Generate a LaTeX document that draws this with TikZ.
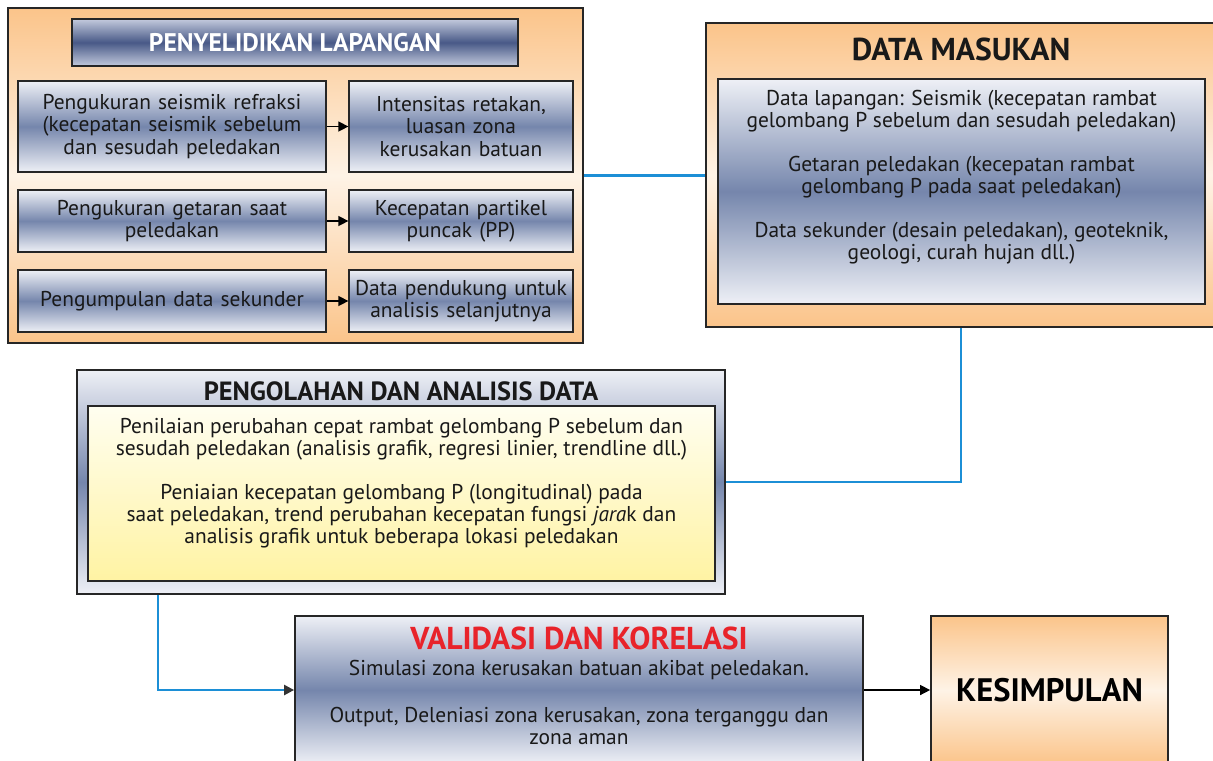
\documentclass[tikz,border=0pt]{standalone}
\usepackage{fontspec}
\setmainfont{PT Sans}
\usetikzlibrary{arrows.meta,positioning}
\definecolor{Peach}{HTML}{FBC48A}
\definecolor{PeachLight}{HTML}{FEF3E6}
\definecolor{Slate}{HTML}{7586AC}
\definecolor{SlateLight}{HTML}{EEF0F6}
\definecolor{Navy}{HTML}{485987}
\definecolor{NavyLight}{HTML}{C3CADD}
\definecolor{LemonTop}{HTML}{FFFEF0}
\definecolor{Lemon}{HTML}{FFF3A3}
\definecolor{LinkBlue}{HTML}{1C8FD6}
\definecolor{TitleRed}{HTML}{E8232A}

\begin{document}
\begin{tikzpicture}[
    frame/.style={draw=black!85,line width=1pt},
    peachbox/.style={frame,top color=Peach,bottom color=Peach,middle color=PeachLight},
    slatebox/.style={frame,top color=SlateLight,bottom color=SlateLight,middle color=Slate},
    titlebox/.style={frame,top color=NavyLight,bottom color=NavyLight,middle color=Navy},
    lemonbox/.style={frame,top color=LemonTop,bottom color=Lemon},
    cell/.style={slatebox,align=center,inner sep=1pt,text=black!90,
                 font=\fontsize{12.2}{12.6}\selectfont},
    body/.style={align=center,text=black!90,font=\fontsize{12.2}{12.6}\selectfont},
    head/.style={font=\bfseries\fontsize{15}{15}\selectfont,text=black!90},
    link/.style={line width=1.3pt,LinkBlue},
    arr/.style={-{Triangle[length=2mm,width=2mm]},thick,black}]
  \useasboundingbox (0,0) rectangle (24.26,-15.2);

  \node[peachbox,minimum width=11.5cm,minimum height=6.7cm] (field) at (5.91,-3.51) {};
  \node[titlebox,minimum width=8.92cm,minimum height=0.94cm,text=white,
        font=\bfseries\fontsize{14.5}{14.5}\selectfont] (fieldtitle) at (5.9,-0.85) {PENYELIDIKAN LAPANGAN};
  \node[cell,minimum width=6.16cm,minimum height=1.82cm,text width=6.1cm] (seis) at (3.44,-2.53)
    {Pengukuran seismik refraksi\\(kecepatan seismik sebelum\\dan sesudah peledakan};
  \node[cell,minimum width=4.44cm,minimum height=1.82cm,text width=4.4cm] (crack) at (9.22,-2.53)
    {Intensitas retakan,\\luasan zona\\kerusakan batuan};
  \node[cell,minimum width=6.16cm,minimum height=1.24cm,text width=6.1cm] (vib) at (3.44,-4.42)
    {Pengukuran getaran saat\\peledakan};
  \node[cell,minimum width=4.44cm,minimum height=1.24cm,text width=4.4cm] (ppv) at (9.22,-4.42)
    {Kecepatan partikel\\puncak (PP)};
  \node[cell,minimum width=6.16cm,minimum height=1.24cm,text width=6.1cm] (second) at (3.44,-6.02)
    {Pengumpulan data sekunder};
  \node[cell,minimum width=4.44cm,minimum height=1.24cm,text width=4.4cm] (support) at (9.22,-6.02)
    {Data pendukung untuk\\analisis selanjutnya};
  \draw[arr] (seis) -- (crack);
  \draw[arr] (vib) -- (ppv);
  \draw[arr] (second) -- (support);

  \node[peachbox,minimum width=10.2cm,minimum height=6.08cm] (input) at (19.22,-3.5) {};
  \node[head,font=\bfseries\fontsize{18}{18}\selectfont] (inputtitle) at (19.22,-0.98) {DATA MASUKAN};
  \node[slatebox,minimum width=9.74cm,minimum height=4.5cm] (inputlist) at (19.23,-3.83) {};
  \node[body] (inputtext) at (19.23,-3.54)
    {Data lapangan: Seismik (kecepatan rambat\\gelombang P sebelum dan sesudah peledakan)\\[12.4pt]
     Getaran peledakan (kecepatan rambat\\gelombang P pada saat peledakan)\\[12.4pt]
     Data sekunder (desain peledakan), geoteknik,\\geologi, curah hujan dll.)};

  \node[slatebox,minimum width=12.96cm,minimum height=4.48cm] (proc) at (8.02,-9.64) {};
  \node[head] (proctitle) at (8.02,-7.82) {PENGOLAHAN DAN ANALISIS DATA};
  \node[lemonbox,minimum width=12.54cm,minimum height=3.5cm] (procbody) at (8.03,-9.87) {};
  \node[body] (proctext) at (8.03,-9.66)
    {Penilaian perubahan cepat rambat gelombang P sebelum dan\\sesudah peledakan (analisis grafik, regresi linier, trendline dll.)\\[12.4pt]
     Peniaian kecepatan gelombang P (longitudinal) pada\\saat peledakan, trend perubahan kecepatan fungsi \textit{jara}k dan\\analisis grafik untuk beberapa lokasi peledakan};

  \node[slatebox,minimum width=11.36cm,minimum height=2.96cm] (valid) at (11.58,-13.8) {};
  \node[head,text=TitleRed,font=\bfseries\fontsize{18}{18}\selectfont] (validtitle) at (11.58,-12.76) {VALIDASI DAN KORELASI};
  \node[body] (validsim) at (11.58,-13.4) {Simulasi zona kerusakan batuan akibat peledakan.};
  \node[body] (validout) at (11.58,-14.52) {Output, Deleniasi zona kerusakan, zona terganggu dan\\zona aman};

  \node[peachbox,minimum width=4.74cm,minimum height=2.96cm,
        font=\bfseries\fontsize{18.5}{18.5}\selectfont] (concl) at (20.99,-13.8) {KESIMPULAN};

  \coordinate (drop) at (3.16,-11.88);
  \draw[link] (field.east) -- (field.east -| input.west);
  \draw[link] (input.south) |- (proc.east);
  \draw[link,-{Triangle[length=2mm,width=2mm,black!80]}] (proc.south -| drop) |- (valid.west);
  \draw[arr] (valid) -- (concl);
\end{tikzpicture}
\end{document}
